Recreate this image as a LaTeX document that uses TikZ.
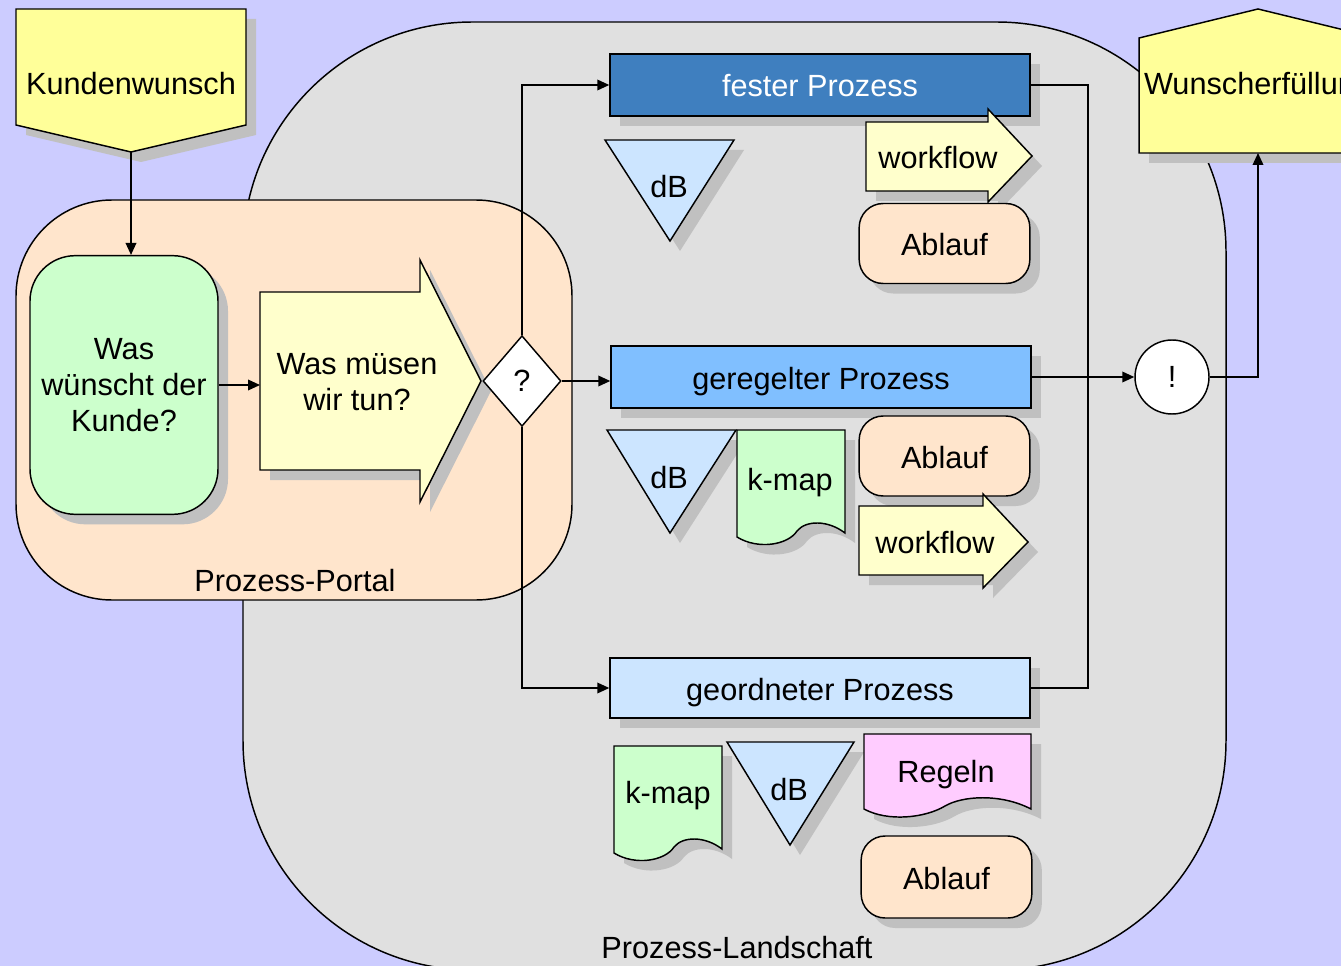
\documentclass[tikz,border=0pt]{standalone}
\usepackage{fontspec}
\setmainfont{Liberation Sans}
\usetikzlibrary{arrows.meta,shapes.geometric,shadows}

\definecolor{lavender}{HTML}{CCCCFF}
\definecolor{landgrey}{HTML}{E0E0E0}
\definecolor{peach}{HTML}{FFE5CC}
\definecolor{wishyellow}{HTML}{FFFF99}
\definecolor{paleyellow}{HTML}{FFFFCC}
\definecolor{kundegreen}{HTML}{CCFFCC}
\definecolor{festblue}{HTML}{3F7FBF}
\definecolor{regelblue}{HTML}{80BFFF}
\definecolor{ordblue}{HTML}{CCE5FF}
\definecolor{regelpink}{HTML}{FFCCFF}
\definecolor{shadowgrey}{HTML}{C0C0C0}

\tikzset{
  outline/.style={draw=black,line width=1.1pt},
  dropped/.style={drop shadow={shadow xshift=7.5pt,shadow yshift=-7.5pt,fill=shadowgrey,opacity=1}},
  lbl/.style={text height=22pt,text depth=4pt},
  procbar/.style={lbl,outline,dropped,rectangle,minimum width=315pt,minimum height=46.5pt},
  ablauf/.style={lbl,outline,dropped,fill=peach,rounded corners=18pt,minimum width=128pt,minimum height=60pt},
  link/.style={line width=1.1pt,-{Triangle[length=9pt,width=8pt]}}
}

\begin{document}
\begin{tikzpicture}[x=0.75pt,y=-0.75pt,font=\fontsize{23}{27}\selectfont]
  \useasboundingbox (0,0) rectangle (1341,966);
  \clip (0,0) rectangle (1341,966);
  \fill[lavender] (0,0) rectangle (1341,966);

  % Landschaft und Portal
  \filldraw[outline,fill=landgrey,rounded corners=172pt] (243,22) rectangle (1226,970);
  \filldraw[outline,fill=peach,rounded corners=72pt] (16,200) rectangle (572,600);
  \node[lbl] (land) at (737,946) {Prozess-Landschaft};
  \node[lbl] (portal) at (295,579) {Prozess-Portal};

  % Kundenwunsch
  \filldraw[outline,dropped,fill=wishyellow] (16,9) -- (246,9) -- (246,125) -- (131,152) -- (16,125) -- cycle;
  \node[lbl] (kw) at (131,83) {Kundenwunsch};
  \coordinate (kwtip) at (131,152);

  \node[outline,dropped,fill=kundegreen,rounded corners=34pt,minimum width=141pt,minimum height=194pt,align=center] (ww) at (124,385) {Was\\wünscht der\\Kunde?};
  \draw[link] (kwtip) -- (kwtip |- ww.north);

  % Was muessen wir tun
  \filldraw[outline,dropped,fill=paleyellow] (260,292) -- (420,292) -- (420,260) -- (481,381) -- (420,502) -- (420,470) -- (260,470) -- cycle;
  \node[align=center] (tun) at (357,382) {Was müsen\\wir tun?};
  \coordinate (tuntail) at (260,385);
  \draw[link] (ww) -- (tuntail);

  \node[diamond,outline,fill=white,minimum width=58.5pt,minimum height=68pt,inner sep=0pt] (q) at (522,381) {?};

  % Prozesse
  \node[procbar,fill=festblue,text=white] (fest) at (820,85) {fester Prozess};
  \node[procbar,fill=regelblue] (gereg) at (821,377) {geregelter Prozess};
  \node[procbar,fill=ordblue,minimum height=45pt] (geord) at (820,688) {geordneter Prozess};

  \draw[link] (q.north) |- (fest);
  \draw[link] (q.south) |- (geord);
  \draw[link] (q.east) -- (q.east -| gereg.west);

  \node[circle,outline,fill=white,minimum size=55.5pt,inner sep=0pt] (done) at (1172,377) {!};
  \draw[link] (gereg) -- (done);
  \coordinate (bus) at (1088,380);
  \draw[outline] (fest.east) -| (bus) |- (geord.east);

  % Wunscherfuellung
  \filldraw[outline,dropped,fill=wishyellow] (1139,38) -- (1258,9) -- (1377,38) -- (1377,153) -- (1139,153) -- cycle;
  \node[lbl] (wish) at (1258,83) {Wunscherfüllung};
  \coordinate (wishfoot) at (1258,153);
  \draw[link] (done) -| (wishfoot);

  % fester Prozess
  \filldraw[outline,dropped,fill=ordblue] (605,140) -- (734,140) -- (670,241) -- cycle;
  \node[lbl] (db1) at (669,186) {dB};
  \filldraw[outline,dropped,fill=paleyellow] (866,122) -- (988,122) -- (988,109) -- (1032,156) -- (988,202) -- (988,191) -- (866,191) -- cycle;
  \node[lbl] (wf1) at (938,157) {workflow};
  \node[ablauf] (abl1) at (944.5,243.5) {Ablauf};

  % geregelter Prozess
  \filldraw[outline,dropped,fill=ordblue] (607,430) -- (736,430) -- (670,533) -- cycle;
  \node[lbl] (db2) at (669,476) {dB};
  \filldraw[outline,dropped,fill=kundegreen] (737,430) -- (845,430) -- (845,533) .. controls (828,520) and (806,520) .. (797,531) .. controls (788,545) and (758,550) .. (737,537) -- cycle;
  \node[lbl] (km1) at (790,478) {k-map};
  \node[ablauf] (abl2) at (944.5,456) {Ablauf};
  \filldraw[outline,dropped,fill=paleyellow] (859,506) -- (983,506) -- (983,494) -- (1028,542) -- (983,588) -- (983,575) -- (859,575) -- cycle;
  \node[lbl] (wf2) at (935,541) {workflow};

  % geordneter Prozess
  \filldraw[outline,dropped,fill=kundegreen] (614,746) -- (722,746) -- (722,849) .. controls (705,836) and (683,836) .. (674,847) .. controls (665,861) and (635,866) .. (614,853) -- cycle;
  \node[lbl] (km2) at (668,791) {k-map};
  \filldraw[outline,dropped,fill=ordblue] (727,742) -- (854,742) -- (790,845) -- cycle;
  \node[lbl] (db3) at (789,788) {dB};
  \filldraw[outline,dropped,fill=regelpink] (864,734) -- (1031,734) -- (1031,809) .. controls (1000,793) and (962,796) .. (945,806) .. controls (925,818) and (888,822) .. (864,809) -- cycle;
  \node[lbl] (reg) at (946,770) {Regeln};
  \node[ablauf,minimum height=61.5pt] (abl3) at (946.5,877) {Ablauf};
\end{tikzpicture}
\end{document}
